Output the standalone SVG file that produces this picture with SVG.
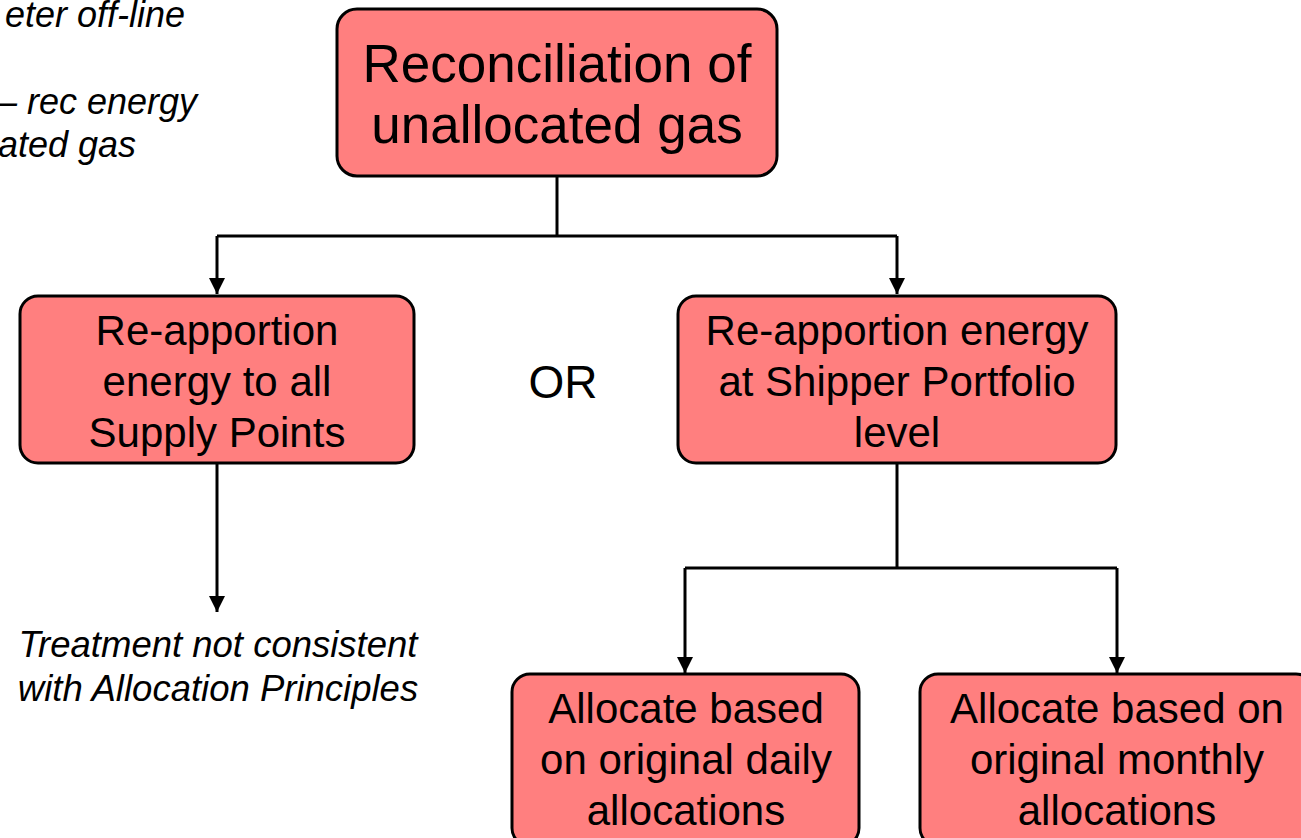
<svg xmlns="http://www.w3.org/2000/svg" width="1301" height="838" viewBox="0 0 1301 838">
  <style>
    .box { fill: #FF7F7F; stroke: #000000; stroke-width: 3; }
    .lbl { font-family: "Liberation Sans", Arial, sans-serif; fill: #000000; text-anchor: middle; }
    .note { font-family: "Liberation Sans", Arial, sans-serif; font-style: italic; fill: #000000; }
    .wire { fill: none; stroke: #000000; stroke-width: 3; }
  </style>
  <defs>
    <marker id="arrow" markerUnits="userSpaceOnUse" markerWidth="16" markerHeight="16" refX="16" refY="8" orient="auto">
      <path d="M0,0 L16,8 L0,16 z" fill="#000000"/>
    </marker>
  </defs>
  <rect width="1301" height="838" fill="#FFFFFF"/>

  <!-- partial notes at the top-left edge -->
  <g id="side-notes" class="note" font-size="36" text-anchor="end">
    <text x="185" y="27">eter off-line</text>
    <text x="197" y="114">– rec energy</text>
    <text x="136" y="157">ated gas</text>
  </g>

  <g id="connectors">
    <path class="wire" d="M557,177 V236"/>
    <path class="wire" d="M217,236 H897"/>
    <path class="wire" d="M217,236 V294" marker-end="url(#arrow)"/>
    <path class="wire" d="M897,236 V294" marker-end="url(#arrow)"/>
    <path class="wire" d="M217,463 V612" marker-end="url(#arrow)"/>
    <path class="wire" d="M897,463 V568"/>
    <path class="wire" d="M685,568 H1117"/>
    <path class="wire" d="M685,568 V673" marker-end="url(#arrow)"/>
    <path class="wire" d="M1117,568 V673" marker-end="url(#arrow)"/>
  </g>

  <g id="reconciliation">
    <rect class="box" x="337" y="9" width="440" height="167" rx="20"/>
    <text class="lbl" font-size="53" x="557" y="82">Reconciliation of</text>
    <text class="lbl" font-size="53" x="557" y="143">unallocated gas</text>
  </g>

  <g id="reapportion-all">
    <rect class="box" x="20" y="296" width="394" height="167" rx="18"/>
    <text class="lbl" font-size="42" x="217" y="345">Re-apportion</text>
    <text class="lbl" font-size="42" x="217" y="396">energy to all</text>
    <text class="lbl" font-size="42" x="217" y="447">Supply Points</text>
  </g>

  <g id="or-label">
    <text class="lbl" font-size="46" x="563" y="398">OR</text>
  </g>

  <g id="reapportion-portfolio">
    <rect class="box" x="678" y="296" width="438" height="167" rx="18"/>
    <text class="lbl" font-size="42" x="897" y="345">Re-apportion energy</text>
    <text class="lbl" font-size="42" x="897" y="396">at Shipper Portfolio</text>
    <text class="lbl" font-size="42" x="897" y="447">level</text>
  </g>

  <g id="treatment-note" class="note" font-size="36.5" text-anchor="middle">
    <text x="218" y="657">Treatment not consistent</text>
    <text x="218" y="701">with Allocation Principles</text>
  </g>

  <g id="allocate-daily">
    <rect class="box" x="512" y="674" width="347" height="172" rx="18"/>
    <text class="lbl" font-size="42" x="686" y="723">Allocate based</text>
    <text class="lbl" font-size="42" x="686" y="774">on original daily</text>
    <text class="lbl" font-size="42" x="686" y="825">allocations</text>
  </g>

  <g id="allocate-monthly">
    <rect class="box" x="920" y="674" width="394" height="172" rx="18"/>
    <text class="lbl" font-size="42" x="1117" y="723">Allocate based on</text>
    <text class="lbl" font-size="42" x="1117" y="774">original monthly</text>
    <text class="lbl" font-size="42" x="1117" y="825">allocations</text>
  </g>
</svg>
